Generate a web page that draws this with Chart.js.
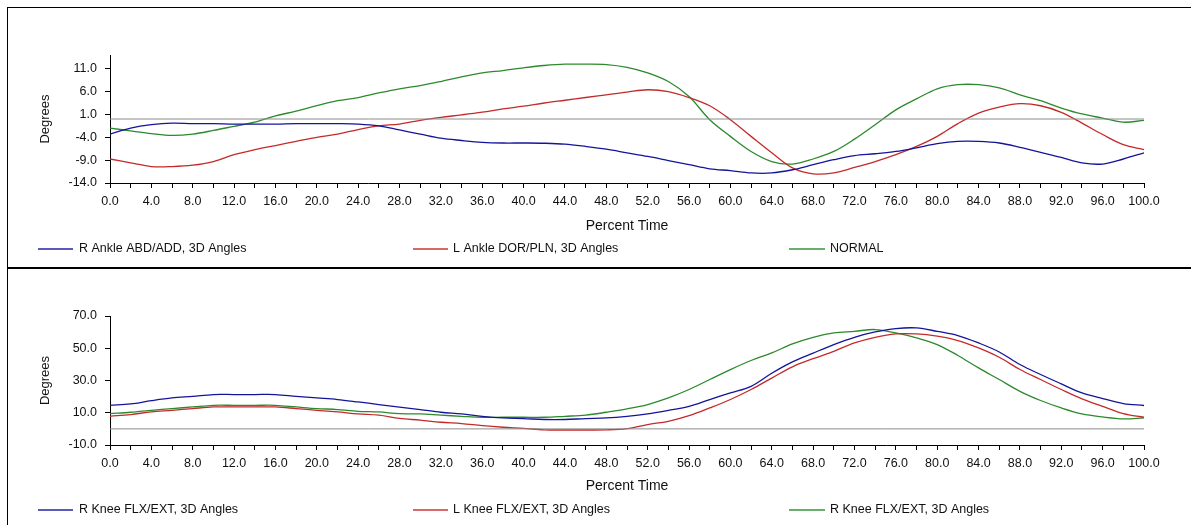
<!DOCTYPE html>
<html>
<head>
<meta charset="utf-8">
<script src="https://cdn.jsdelivr.net/npm/chart.js@4"></script>
<style>
  html, body { margin: 0; padding: 0; background: #fff; }
  body { width: 1191px; height: 525px; position: relative; overflow: hidden; }
  #frame { position: absolute; left: 7px; top: 7px; width: 1184px; height: 518px;
           border-left: 1px solid #000; border-top: 1px solid #000; }
  #divider { position: absolute; left: 7px; top: 267px; width: 1184px; height: 2px; background: #000; }
  #w1 { position: absolute; left: 8px; top: 8px; width: 1183px; height: 259px; }
  #w2 { position: absolute; left: 8px; top: 269px; width: 1183px; height: 256px; }
</style>
</head>
<body>
<div id="frame"></div>
<div id="divider"></div>
<div id="w1"><canvas id="c1"></canvas></div>
<div id="w2"><canvas id="c2"></canvas></div>
<script>
// ---- data ----
const percentTime = [0,2,4,6,8,10,12,14,16,18,20,22,24,26,28,30,32,34,36,38,40,42,44,46,48,50,
  52,54,56,58,60,62,64,66,68,70,72,74,76,78,80,82,84,86,88,90,92,94,96,98,100];

// Top chart (ankle)
const ankleLabels = ["R Ankle ABD/ADD, 3D Angles", "L Ankle DOR/PLN, 3D Angles", "NORMAL"];
const rAnkleAbdAdd = [-3.3,-2.0,-1.25,-0.9,-1.0,-1.0,-1.1,-1.1,-1.1,-1.0,-1.0,-1.0,-1.1,-1.5,-2.4,-3.3,-4.2,-4.7,-5.1,-5.25,-5.25,-5.3,-5.5,-6.0,-6.6,-7.4,
  -8.2,-9.1,-10.0,-10.9,-11.3,-11.8,-11.8,-11.1,-10.0,-8.9,-8.0,-7.6,-7.1,-6.3,-5.4,-4.9,-4.9,-5.25,-6.2,-7.3,-8.4,-9.6,-9.85,-8.75,-7.4];
const lAnkleDorPln = [-8.75,-9.6,-10.4,-10.4,-10.1,-9.3,-7.8,-6.7,-5.8,-4.9,-4.0,-3.3,-2.3,-1.5,-1.1,-0.3,0.35,0.9,1.5,2.2,2.8,3.5,4.1,4.7,5.3,5.9,
  6.4,6.0,4.7,2.9,-0.15,-3.8,-7.4,-10.7,-12.0,-11.8,-10.6,-9.3,-7.8,-6.0,-3.8,-1.0,1.3,2.6,3.35,2.9,1.45,-0.9,-3.4,-5.6,-6.7];
const ankleNormal = [-2.0,-2.6,-3.2,-3.6,-3.3,-2.5,-1.6,-0.7,0.7,1.7,2.9,4.0,4.7,5.7,6.6,7.3,8.2,9.2,10.1,10.6,11.2,11.7,12.0,12.0,11.9,11.3,
  10.1,8.2,4.9,-0.15,-3.8,-7.1,-9.3,-9.85,-8.75,-7.1,-4.4,-1.25,2.0,4.4,6.6,7.5,7.5,6.8,5.3,4.0,2.4,1.1,0.2,-0.7,-0.3];
const ankleYTicks = [-14, -9, -4, 1, 6, 11];
const ankleYRange = [-14, 14];

// Bottom chart (knee)
const kneeLabels = ["R Knee FLX/EXT, 3D Angles", "L Knee FLX/EXT, 3D Angles", "R Knee FLX/EXT, 3D Angles"];
const rKneeFlxExt = [14.6,15.5,17.5,19.2,20.2,21.3,21.3,21.3,21.3,20.2,19.2,18.2,16.7,15.1,13.5,12.0,10.3,9.3,7.8,6.8,6.4,5.8,5.8,6.4,6.8,7.8,
  9.3,11.5,14.0,18.2,22.3,26.4,34.5,41.5,47.0,52.3,56.8,60.1,62.2,62.6,60.5,57.9,53.3,47.7,39.9,33.7,27.9,22.3,18.8,15.7,14.5];
const lKneeFlxExt = [7.8,8.9,10.5,11.5,12.6,13.6,13.6,13.6,13.6,12.6,11.5,10.5,9.3,8.5,6.5,5.4,4.1,3.3,2.0,1.0,0.3,-0.6,-0.7,-0.7,-0.6,0.2,
  2.7,4.7,8.2,13.0,18.2,24.4,31.5,38.5,43.5,48.1,53.3,56.8,58.9,58.9,57.5,54.8,50.2,44.4,36.8,30.6,24.4,18.6,14.0,9.5,7.2];
const rKneeNormal = [9.5,10.3,11.5,12.6,13.6,14.6,14.6,14.6,14.6,13.6,12.6,12.0,10.9,10.5,9.4,9.3,8.5,7.8,7.2,7.2,7.2,7.2,7.8,8.5,10.3,12.4,
  15.1,19.2,24.4,30.6,36.8,42.4,47.1,52.7,56.8,59.5,60.5,61.6,59.5,56.4,52.3,45.5,37.8,30.6,23.3,17.6,13.0,9.3,7.4,6.2,6.8];
const kneeYTicks = [-10, 10, 30, 50, 70];
const kneeYRange = [-10, 70];

const zeroLine = [0, 0];
const zeroLineX = [0, 100];

// ---- styling ----
const COLORS = ['#14149a', '#c42a2a', '#2c8a2c'];
const FONT = 'Liberation Sans, Arial, sans-serif';

function pts(ys) { return percentTime.map((t, i) => ({ x: t, y: ys[i] })); }

const legendPlugin = {
  id: 'rowLegend',
  afterDraw(chart, args, opts) {
    const ctx = chart.ctx;
    const slots = opts.slots;
    let k = 0;
    ctx.save();
    chart.data.datasets.forEach(ds => {
      if (!ds.label) return;
      const s = slots[k++];
      ctx.globalAlpha = 0.7;
      ctx.strokeStyle = ds.borderColor;
      ctx.lineWidth = 2;
      ctx.beginPath();
      ctx.moveTo(s.x0, opts.y);
      ctx.lineTo(s.x1, opts.y);
      ctx.stroke();
      ctx.globalAlpha = 1;
      ctx.fillStyle = '#111';
      ctx.font = '12.5px ' + FONT;
      ctx.textBaseline = 'middle';
      ctx.textAlign = 'left';
      ctx.fillText(ds.label, s.tx, opts.y);
    });
    ctx.restore();
  }
};

function makeChart(canvasId, labels, series, yRange, yTicks, xAxisHeight, titlePadBottom) {
  const datasets = [
    { label: '', data: zeroLineX.map((x, i) => ({ x: x, y: zeroLine[i] })), borderColor: '#8c8c8c', borderWidth: 1, pointRadius: 0, tension: 0 }
  ];
  series.forEach((s, i) => {
    datasets.push({ label: labels[i], data: pts(s), borderColor: COLORS[i], borderWidth: 1.3, pointRadius: 0, tension: 0.35, fill: false });
  });
  return new Chart(document.getElementById(canvasId), {
    type: 'line',
    data: { datasets },
    plugins: [legendPlugin],
    options: {
      responsive: true,
      maintainAspectRatio: false,
      animation: false,
      events: [],
      layout: { padding: { top: 47, right: 47, left: 0, bottom: 0 } },
      plugins: {
        legend: { display: false },
        tooltip: { enabled: false },
        rowLegend: {
          y: 241,
          slots: [ { x0: 30, x1: 65, tx: 71 }, { x0: 405, x1: 440, tx: 445 }, { x0: 781, x1: 817, tx: 822 } ]
        }
      },
      scales: {
        x: {
          type: 'linear', min: 0, max: 100,
          afterFit(scale) { scale.height = xAxisHeight; },
          grid: { display: true, drawOnChartArea: false, drawTicks: true, tickLength: 5, color: '#000', lineWidth: 1 },
          border: { display: true, color: '#000', width: 1 },
          ticks: {
            stepSize: 2, autoSkip: false, maxRotation: 0, padding: 6, color: '#111',
            font: { family: FONT, size: 12.5 },
            callback: v => (Math.round(v) % 4 === 0 ? v.toFixed(1) : '')
          },
          title: { display: true, text: 'Percent Time', color: '#111', font: { family: FONT, size: 14 },
                   padding: { top: 0, bottom: titlePadBottom } }
        },
        y: {
          type: 'linear', min: yRange[0], max: yRange[1],
          afterFit(scale) { scale.width = 102; },
          afterBuildTicks(scale) { scale.ticks = yTicks.map(v => ({ value: v })); },
          grid: { display: true, drawOnChartArea: false, drawTicks: true, tickLength: 5, color: '#000', lineWidth: 1 },
          border: { display: true, color: '#000', width: 1 },
          ticks: { padding: 8, color: '#111', font: { family: FONT, size: 12.5 }, callback: v => Number(v).toFixed(1) },
          title: { display: true, text: 'Degrees', color: '#111', font: { family: FONT, size: 13 },
                   padding: { top: 30, bottom: 0 } }
        }
      }
    }
  });
}

makeChart('c1', ankleLabels, [rAnkleAbdAdd, lAnkleDorPln, ankleNormal], ankleYRange, ankleYTicks, 84, 32);
makeChart('c2', kneeLabels, [rKneeFlxExt, lKneeFlxExt, rKneeNormal], kneeYRange, kneeYTicks, 80, 30);
</script>
</body>
</html>
